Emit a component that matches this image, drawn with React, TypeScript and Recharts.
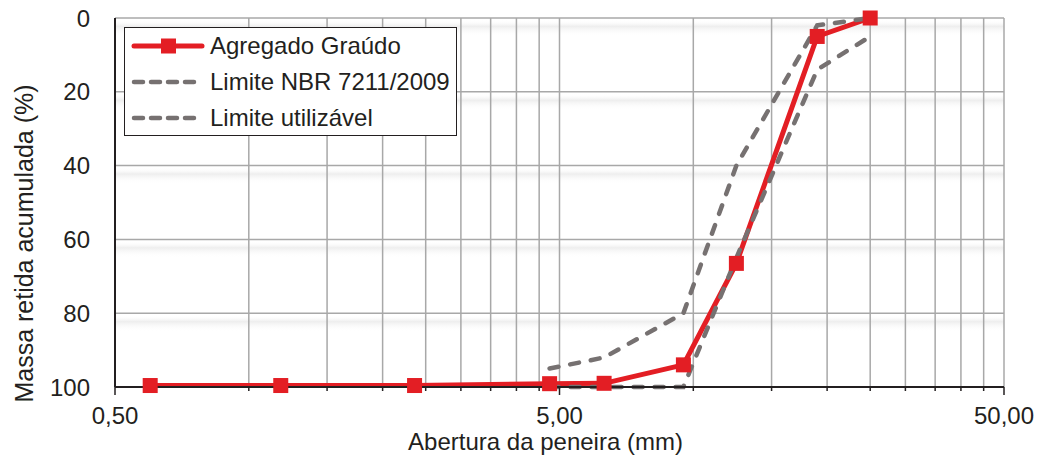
import React from "react";
import {
  CartesianGrid,
  Legend,
  Line,
  LineChart,
  XAxis,
  YAxis,
} from "recharts";

// abertura das peneiras (mm)
const sieves = [0.6, 1.18, 2.36, 4.75, 6.3, 9.5, 12.5, 19, 25];
const graudo = [99.6, 99.6, 99.6, 99.1, 99.0, 94.0, 66.5, 5.0, 0.0];

const limitSieves = [4.75, 6.3, 9.5, 12.5, 19, 25];
const limiteNbr = [95, 92, 80, 40, 2, 0];
const limiteUtil = [100, 100, 100, 65, 14, 5];

const majorTicks = [0.5, 5, 50];
const minorTicks = [1, 1.5, 2, 2.5, 3, 3.5, 4, 4.5, 10, 15, 20, 25, 30, 35, 40, 45];
const xTicks = [...majorTicks, ...minorTicks].sort((a, b) => a - b);
const yTicks = [0, 20, 40, 60, 80, 100];

const RED = "#e31e24";
const GRAY = "#767171";
const GRID = "#a8a8a8";
const INK = "#231f20";
const FONT = "'Liberation Sans', Arial, Helvetica, sans-serif";

const toPoints = (xs: number[], ys: number[]) => xs.map((x, i) => ({ x, y: ys[i] }));

const graudoData = toPoints(sieves, graudo);
const nbrData = toPoints(limitSieves, limiteNbr);
const utilData = toPoints(limitSieves, limiteUtil);

const fmt = (v: number) => v.toFixed(2).replace(".", ",");

function XTick(props: any) {
  const { x, y, payload } = props;
  const major = majorTicks.includes(payload.value);
  return (
    <g>
      <line x1={x} x2={x} y1={y} y2={y + (major ? 8 : 4)} stroke={INK} strokeWidth={1.5} />
      {major && (
        <text x={x} y={y + 37} textAnchor="middle" fontSize={24} fill={INK} fontFamily={FONT}>
          {fmt(payload.value)}
        </text>
      )}
    </g>
  );
}

function YTick(props: any) {
  const { x, y, payload } = props;
  return (
    <text x={x} y={y} dy="0.36em" textAnchor="end" fontSize={24} fill={INK} fontFamily={FONT}>
      {payload.value}
    </text>
  );
}

function ShadowLine(props: any) {
  const { x1, x2, y1 } = props;
  return (
    <g key={props.key}>
      <rect x={x1} y={y1 + 2} width={x2 - x1} height={16} fill="url(#gridShadow)" />
      <line x1={x1} x2={x2} y1={y1} y2={y1} stroke={GRID} strokeWidth={1.5} />
    </g>
  );
}

function Square(props: any) {
  const { cx, cy } = props;
  if (cx == null || cy == null) return null;
  return <rect x={cx - 7.5} y={cy - 7.5} width={15} height={15} fill={RED} />;
}

function LegendBox() {
  const rows = [
    { label: "Agregado Graúdo", color: RED, dashed: false },
    { label: "Limite NBR 7211/2009", color: GRAY, dashed: true },
    { label: "Limite utilizável", color: GRAY, dashed: true },
  ];
  return (
    <div
      style={{
        width: 333,
        height: 109,
        boxSizing: "border-box",
        border: `1.5px solid ${INK}`,
        background: "#fff",
        fontFamily: FONT,
        fontSize: 24,
        color: INK,
      }}
    >
      {rows.map((r) => (
        <div key={r.label} style={{ display: "flex", alignItems: "center", height: 36 }}>
          <svg width={85} height={36} style={{ flex: "none" }}>
            <line
              x1={9}
              x2={77}
              y1={18}
              y2={18}
              stroke={r.color}
              strokeWidth={r.dashed ? 4.5 : 5}
              strokeLinecap="round"
              strokeDasharray={r.dashed ? "9 8" : undefined}
            />
            {!r.dashed && <rect x={36} y={10.5} width={15} height={15} fill={RED} />}
          </svg>
          <span style={{ whiteSpace: "nowrap" }}>{r.label}</span>
        </div>
      ))}
    </div>
  );
}

export default function App() {
  return (
    <div style={{ position: "absolute", left: 0, top: 0, background: "#fff", fontFamily: FONT }}>
      <LineChart width={1051} height={455} margin={{ top: 18, right: 47, bottom: 0, left: 0 }}>
        <defs>
          <linearGradient id="gridShadow" x1="0" y1="0" x2="0" y2="1">
            <stop offset="0" stopColor="#ffffff" stopOpacity={0} />
            <stop offset="0.4" stopColor="#ececec" stopOpacity={0.9} />
            <stop offset="1" stopColor="#ffffff" stopOpacity={0} />
          </linearGradient>
        </defs>
        <CartesianGrid
          stroke={GRID}
          strokeWidth={1.5}
          horizontal={(p: any) => <ShadowLine {...p} />}
          horizontalValues={[0, 20, 40, 60, 80]}
        />
        <XAxis
          type="number"
          dataKey="x"
          scale="log"
          domain={[0.5, 50]}
          allowDataOverflow
          ticks={xTicks}
          interval={0}
          tickSize={0}
          tickMargin={0}
          height={68}
          axisLine={{ stroke: INK, strokeWidth: 2 }}
          tick={<XTick />}
          label={(p: any) => {
            const vb = p.viewBox;
            return (
              <text
                x={vb.x + vb.width / 2 - 14}
                y={vb.y + 63}
                textAnchor="middle"
                fontSize={24}
                fill={INK}
                fontFamily={FONT}
              >
                Abertura da peneira (mm)
              </text>
            );
          }}
        />
        <YAxis
          type="number"
          dataKey="y"
          reversed
          domain={[0, 100]}
          ticks={yTicks}
          interval={0}
          width={115}
          tickSize={0}
          tickMargin={25}
          tickLine={false}
          axisLine={{ stroke: INK, strokeWidth: 2 }}
          tick={<YTick />}
          label={(p: any) => {
            const vb = p.viewBox;
            const cx = vb.x + 33;
            const cy = vb.y + vb.height / 2 + 41;
            return (
              <text
                x={cx}
                y={cy}
                transform={`rotate(-90 ${cx} ${cy})`}
                textAnchor="middle"
                fontSize={25}
                fill={INK}
                fontFamily={FONT}
              >
                Massa retida acumulada (%)
              </text>
            );
          }}
        />
        <Line
          data={graudoData}
          dataKey="y"
          name="Agregado Graúdo"
          stroke={RED}
          strokeWidth={5}
          dot={<Square />}
          activeDot={false}
          isAnimationActive={false}
        />
        <Line
          data={nbrData}
          dataKey="y"
          name="Limite NBR 7211/2009"
          stroke={GRAY}
          strokeWidth={4.5}
          strokeDasharray="9 12"
          strokeLinecap="round"
          dot={false}
          activeDot={false}
          isAnimationActive={false}
        />
        <Line
          data={utilData}
          dataKey="y"
          name="Limite utilizável"
          stroke={GRAY}
          strokeWidth={4.5}
          strokeDasharray="9 12"
          strokeLinecap="round"
          dot={false}
          activeDot={false}
          isAnimationActive={false}
        />
        <Legend
          layout="vertical"
          align="center"
          verticalAlign="middle"
          content={() => <LegendBox />}
          wrapperStyle={{ left: 124, top: 27, width: 333, height: 109 }}
        />
      </LineChart>
    </div>
  );
}
